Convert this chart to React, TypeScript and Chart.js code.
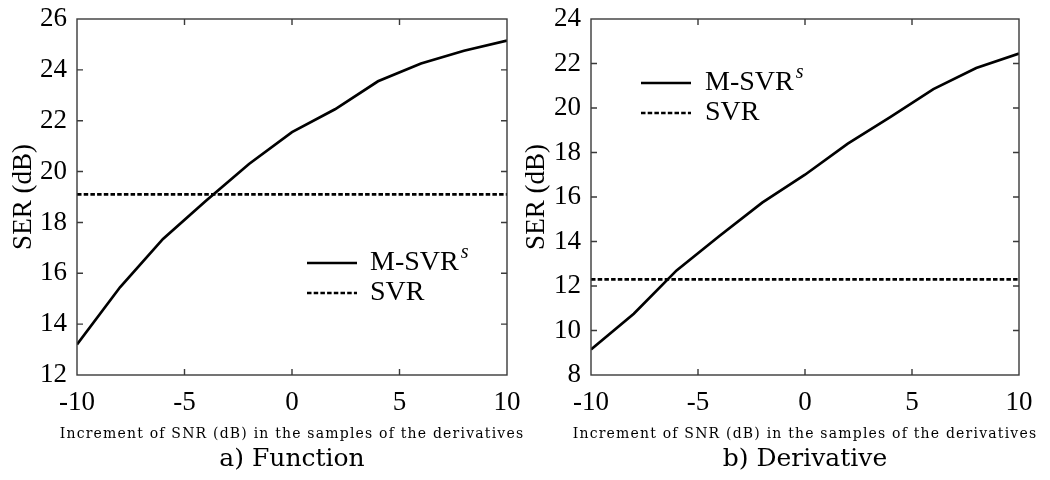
import React, { useEffect, useRef } from "react";
import { Chart, LinearScale, registerables } from "chart.js";

Chart.register(...registerables);

// ---- data ----
const snr = [-10, -8, -6, -4, -2, 0, 2, 4, 6, 8, 10];
const msvrFunction = [13.2, 15.45, 17.35, 18.85, 20.3, 21.55, 22.45, 23.55, 24.25, 24.75, 25.15];
const msvrDerivative = [9.15, 10.75, 12.7, 14.25, 15.75, 17.0, 18.4, 19.6, 20.85, 21.8, 22.45];
const svrX = [-10, 10];
const svrFunction = [19.1, 19.1];
const svrDerivative = [12.3, 12.3];
const xTickValues = [-10, -5, 0, 5, 10];
const yTicksFunction = [12, 14, 16, 18, 20, 22, 24, 26];
const yTicksDerivative = [8, 10, 12, 14, 16, 18, 20, 22, 24];
const seriesLabels = ["M-SVR", "SVR"];
const seriesSuperscript = ["s", ""];
const xTitle = "Increment of SNR (dB) in the samples of the derivatives";
const yTitle = "SER (dB)";
const captions = ["a) Function", "b) Derivative"];

const SERIF = "'Liberation Serif', 'Times New Roman', serif";
const DSERIF = "'DejaVu Serif', serif";

// Linear scale whose title is drawn with letter spacing and may be wider than the axis
class SpacedLinearScale extends (LinearScale as any) {
  static id = "spacedLinear";
  static defaults = (LinearScale as any).defaults;
  drawTitle() {
    const self = this as any;
    const ctx = self.ctx;
    const l = self.left;
    const r = self.right;
    self.left = l - 40;
    self.right = r + 40;
    ctx.save();
    ctx.letterSpacing = "1.2px";
    super.drawTitle();
    ctx.restore();
    self.left = l;
    self.right = r;
  }
}
Chart.register(SpacedLinearScale as any);

const framePlugin = {
  id: "frameTicks",
  afterDatasetsDraw(chart: any) {
    const { ctx, chartArea } = chart;
    const { left, right, top, bottom } = chartArea;
    const xs = chart.scales.x;
    const ys = chart.scales.y;
    const tl = 6;
    ctx.save();
    ctx.strokeStyle = "#3a3a3a";
    ctx.lineWidth = 1.4;
    ctx.setLineDash([]);
    ctx.strokeRect(left, top, right - left, bottom - top);
    ctx.beginPath();
    xs.ticks.forEach((t: any) => {
      const px = xs.getPixelForValue(t.value);
      if (Math.abs(px - left) < 1 || Math.abs(px - right) < 1) return;
      ctx.moveTo(px, bottom);
      ctx.lineTo(px, bottom - tl);
      ctx.moveTo(px, top);
      ctx.lineTo(px, top + tl);
    });
    ys.ticks.forEach((t: any) => {
      const py = ys.getPixelForValue(t.value);
      if (Math.abs(py - top) < 1 || Math.abs(py - bottom) < 1) return;
      ctx.moveTo(left, py);
      ctx.lineTo(left + tl, py);
      ctx.moveTo(right, py);
      ctx.lineTo(right - tl, py);
    });
    ctx.stroke();
    ctx.restore();
  },
};

const legendPlugin = {
  id: "boxLegend",
  afterDraw(chart: any, _args: any, opts: any) {
    const { ctx } = chart;
    ctx.save();
    chart.data.datasets.forEach((ds: any, i: number) => {
      const y = opts.y0 + i * opts.rowGap;
      ctx.beginPath();
      ctx.strokeStyle = ds.borderColor;
      ctx.lineWidth = ds.borderWidth;
      ctx.setLineDash(ds.borderDash || []);
      ctx.moveTo(opts.lx0, y);
      ctx.lineTo(opts.lx1, y);
      ctx.stroke();
      ctx.setLineDash([]);
      ctx.fillStyle = "#000";
      ctx.font = `28px ${SERIF}`;
      ctx.textBaseline = "middle";
      ctx.textAlign = "left";
      ctx.fillText(ds.label, opts.tx, y);
      const sup = seriesSuperscript[i];
      if (sup) {
        const w = ctx.measureText(ds.label).width;
        ctx.font = `italic 20px ${SERIF}`;
        ctx.fillText(sup, opts.tx + w + 2, y - 10);
      }
    });
    ctx.restore();
  },
};

type PanelProps = {
  left: number;
  width: number;
  yWidth: number;
  padRight: number;
  yTitlePad: number;
  msvr: number[];
  svr: number[];
  yTicks: number[];
  caption: string;
  legend: { lx0: number; lx1: number; tx: number; y0: number; rowGap: number };
};

function Panel(p: PanelProps) {
  const ref = useRef<HTMLCanvasElement | null>(null);
  useEffect(() => {
    if (!ref.current) return;
    const chart = new Chart(ref.current, {
      type: "line",
      data: {
        datasets: [
          {
            label: seriesLabels[0],
            data: snr.map((x, i) => ({ x, y: p.msvr[i] })),
            borderColor: "#000",
            borderWidth: 2.7,
            pointRadius: 0,
            tension: 0,
            fill: false,
          },
          {
            label: seriesLabels[1],
            data: svrX.map((x, i) => ({ x, y: p.svr[i] })),
            borderColor: "#000",
            borderWidth: 2.7,
            borderDash: [4.5, 2.2],
            pointRadius: 0,
            tension: 0,
            fill: false,
          },
        ],
      },
      options: {
        animation: false,
        responsive: false,
        maintainAspectRatio: false,
        layout: { padding: { top: 19, right: p.padRight, left: 0, bottom: 3 } },
        plugins: {
          legend: { display: false },
          tooltip: { enabled: false },
          title: {
            display: true,
            position: "bottom",
            fullSize: false,
            text: p.caption,
            color: "#000",
            font: { family: DSERIF, size: 25, weight: "normal", lineHeight: 1.2 },
            padding: { top: 0, bottom: 3 },
          },
          boxLegend: p.legend,
        } as any,
        scales: {
          x: {
            type: "spacedLinear",
            min: -10,
            max: 10,
            afterBuildTicks: (s: any) => {
              s.ticks = xTickValues.map((v) => ({ value: v }));
            },
            afterFit: (s: any) => {
              s.height = 69;
            },
            grid: { display: false, drawTicks: false },
            border: { display: false },
            ticks: {
              color: "#000",
              font: { family: SERIF, size: 27, lineHeight: 2.07 },
              padding: 0,
              maxRotation: 0,
              autoSkip: false,
            },
            title: {
              display: true,
              text: xTitle,
              color: "#000",
              font: { family: DSERIF, size: 14, lineHeight: 1.4 },
              padding: { top: 0, bottom: 0 },
            },
          },
          y: {
            type: "linear",
            min: p.yTicks[0],
            max: p.yTicks[p.yTicks.length - 1],
            afterBuildTicks: (s: any) => {
              s.ticks = p.yTicks.map((v) => ({ value: v }));
            },
            afterFit: (s: any) => {
              s.width = p.yWidth;
            },
            grid: { display: false, drawTicks: false },
            border: { display: false },
            ticks: {
              color: "#000",
              font: { family: SERIF, size: 27, lineHeight: 0.5 },
              padding: 10,
              autoSkip: false,
            },
            title: {
              display: true,
              text: yTitle,
              color: "#000",
              font: { family: SERIF, size: 27, lineHeight: 1.2 },
              padding: { top: p.yTitlePad, bottom: 0 },
            },
          },
        },
      } as any,
      plugins: [framePlugin, legendPlugin],
    });
    return () => chart.destroy();
  }, []);
  return (
    <canvas
      ref={ref}
      width={p.width}
      height={480}
      style={{ position: "absolute", left: p.left, top: 0, width: p.width, height: 480 }}
    />
  );
}

export default function App() {
  return (
    <div style={{ position: "absolute", left: 0, top: 0, width: 1050, height: 480, background: "#fff" }}>
      <Panel
        left={0}
        width={525}
        yWidth={77}
        padRight={18}
        yTitlePad={8}
        msvr={msvrFunction}
        svr={svrFunction}
        yTicks={yTicksFunction}
        caption={captions[0]}
        legend={{ lx0: 307, lx1: 357, tx: 370, y0: 263, rowGap: 30 }}
      />
      <Panel
        left={515}
        width={535}
        yWidth={76}
        padRight={31}
        yTitlePad={6}
        msvr={msvrDerivative}
        svr={svrDerivative}
        yTicks={yTicksDerivative}
        caption={captions[1]}
        legend={{ lx0: 126, lx1: 176, tx: 190, y0: 83, rowGap: 30 }}
      />
    </div>
  );
}
